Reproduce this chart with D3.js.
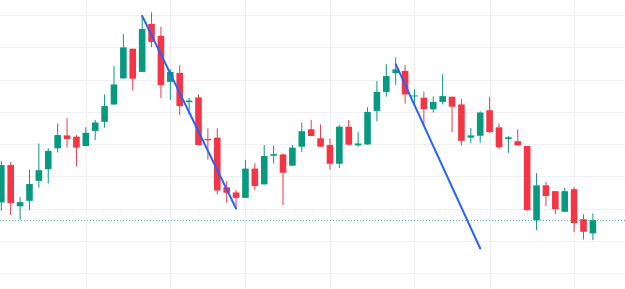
<!DOCTYPE html>
<html>
<head>
<meta charset="utf-8">
<script src="https://cdn.jsdelivr.net/npm/d3@7"></script>
<style>
  html, body { margin: 0; padding: 0; background: #fff; }
  svg { display: block; }
</style>
</head>
<body>
<svg id="chart" width="625" height="289"></svg>
<script>
// candle values (one entry per bar, left to right)
var opens  = [121.9,133.5,120.7,122.4,128.6,132.2,138.7,142.7,142.3,139.4,144.1,146.9,152.3,160.4,169.6,162.4,
              177.3,173.6,159.3,162.1,153.0,154.5,141.6,142.0,126.6,125.0,123.3,132.4,127.5,136.4,136.8,133.3,
              139.2,144.6,141.8,139.7,133.9,145.4,139.6,139.9,150.3,156.2,162.0,162.7,154.9,154.4,150.8,153.1,
              154.7,152.3,142.0,142.6,150.5,145.2,141.6,140.9,139.4,116.4,127.2,125.4,119.0,126.0,116.7,112.3];
var highs  = [134.7,134.4,123.6,132.1,140.2,138.7,146.4,148.0,142.8,145.2,147.5,155.4,164.2,174.1,169.6,179.8,
              180.9,176.4,163.2,164.5,154.3,155.4,144.9,144.9,128.5,125.7,135.0,134.0,139.7,139.5,137.1,139.7,
              146.7,147.5,146.1,141.8,145.9,147.5,143.7,151.4,159.6,164.8,166.9,164.5,157.0,156.3,154.8,161.7,
              154.7,153.9,145.0,150.2,154.7,146.4,142.5,144.6,139.4,131.0,128.3,125.4,126.4,126.6,118.2,118.5];
var lows   = [119.3,118.0,116.6,119.5,126.5,127.8,137.4,138.9,133.1,139.4,141.2,145.1,152.2,160.3,156.6,162.4,
              170.1,154.3,153.7,149.0,149.0,139.6,135.2,124.4,121.8,120.3,123.3,125.7,127.5,134.0,121.1,133.3,
              137.6,142.5,139.2,132.1,132.6,139.8,139.2,139.8,147.1,154.7,158.4,152.6,152.1,145.7,149.8,152.3,
              143.7,139.6,140.3,140.4,143.5,138.4,137.3,139.6,119.3,113.3,120.7,118.3,119.0,112.7,110.4,110.2];
var closes = [133.5,121.7,122.0,127.6,131.9,137.9,142.8,141.6,138.9,143.5,146.7,151.8,158.5,170.0,160.3,175.7,
              171.7,158.3,162.4,151.8,153.5,139.7,141.2,125.6,124.9,123.3,132.4,127.0,136.3,136.9,131.1,138.9,
              144.0,142.5,139.2,133.9,145.4,139.8,140.2,150.0,156.2,161.1,163.2,155.4,155.1,150.9,153.1,154.9,
              151.6,141.0,142.7,149.8,143.7,139.0,142.1,139.6,119.5,127.2,123.9,119.8,125.4,115.5,112.8,116.4];

// price gridlines and the bars where the time gridlines fall
var priceTicks = [100, 110, 120, 130, 140, 150, 160, 170, 180];
var timeGridBars = [9, 18, 26, 35, 44, 52, 61];

// drawn trend lines: [bar, price] -> [bar, price]
var trendLines = [
    [[15, 179.8], [25, 120.0]],
    [[42, 164.8], [51, 107.6]]
];

var upColor = "#089981";
var downColor = "#f23645";

var svg = d3.select("#chart");
var width = +svg.attr("width");
var height = +svg.attr("height");

var candles = opens.map(function(o, i) {
    return {i: i, open: o, high: highs[i], low: lows[i], close: closes[i]};
});

//scales
var x = d3.scaleLinear()
    .domain([0, candles.length - 1])
    .range([1.3, 592.9]);

var y = d3.scaleLinear()
    .domain([100, 180])
    .range([273.0, 15.2]);

var bodyWidth = 6.6;

//grid
var grid = svg.append("g").attr("class", "grid");

grid.selectAll(".hgrid")
    .data(priceTicks)
    .enter().append("line")
    .attr("x1", 0)
    .attr("x2", width)
    .attr("y1", function(d) { return Math.round(y(d)) + 0.5; })
    .attr("y2", function(d) { return Math.round(y(d)) + 0.5; })
    .attr("stroke", "#f0f0f2")
    .attr("stroke-width", 1);

grid.selectAll(".vgrid")
    .data(timeGridBars)
    .enter().append("line")
    .attr("x1", function(d) { return Math.round(x(d)) + 0.5; })
    .attr("x2", function(d) { return Math.round(x(d)) + 0.5; })
    .attr("y1", 0)
    .attr("y2", height)
    .attr("stroke", "#f0f0f2")
    .attr("stroke-width", 1);

//last price line (dotted)
var last = candles[candles.length - 1];
svg.append("line")
    .attr("x1", 0)
    .attr("x2", width)
    .attr("y1", Math.round(y(last.close)) + 0.5)
    .attr("y2", Math.round(y(last.close)) + 0.5)
    .attr("stroke", last.close >= last.open ? upColor : downColor)
    .attr("stroke-opacity", 0.7)
    .attr("stroke-width", 1)
    .attr("stroke-dasharray", "1,2");

//candles
var g = svg.append("g").attr("class", "candles");

var c = g.selectAll(".candle")
    .data(candles)
    .enter().append("g")
    .attr("class", "candle");

c.append("line")
    .attr("x1", function(d) { return x(d.i); })
    .attr("x2", function(d) { return x(d.i); })
    .attr("y1", function(d) { return y(d.high); })
    .attr("y2", function(d) { return y(d.low); })
    .attr("stroke", function(d) { return d.close >= d.open ? upColor : downColor; })
    .attr("stroke-width", 1);

c.append("rect")
    .attr("x", function(d) { return x(d.i) - bodyWidth / 2; })
    .attr("y", function(d) { return y(Math.max(d.open, d.close)); })
    .attr("width", bodyWidth)
    .attr("height", function(d) {
        return Math.max(1, Math.abs(y(d.open) - y(d.close)));
    })
    .attr("fill", function(d) { return d.close >= d.open ? upColor : downColor; });

//trend lines on top
svg.selectAll(".trend")
    .data(trendLines)
    .enter().append("line")
    .attr("class", "trend")
    .attr("x1", function(d) { return x(d[0][0]); })
    .attr("y1", function(d) { return y(d[0][1]); })
    .attr("x2", function(d) { return x(d[1][0]); })
    .attr("y2", function(d) { return y(d[1][1]); })
    .attr("stroke", "#2962ff")
    .attr("stroke-width", 2)
    .attr("stroke-linecap", "round");
</script>
</body>
</html>
